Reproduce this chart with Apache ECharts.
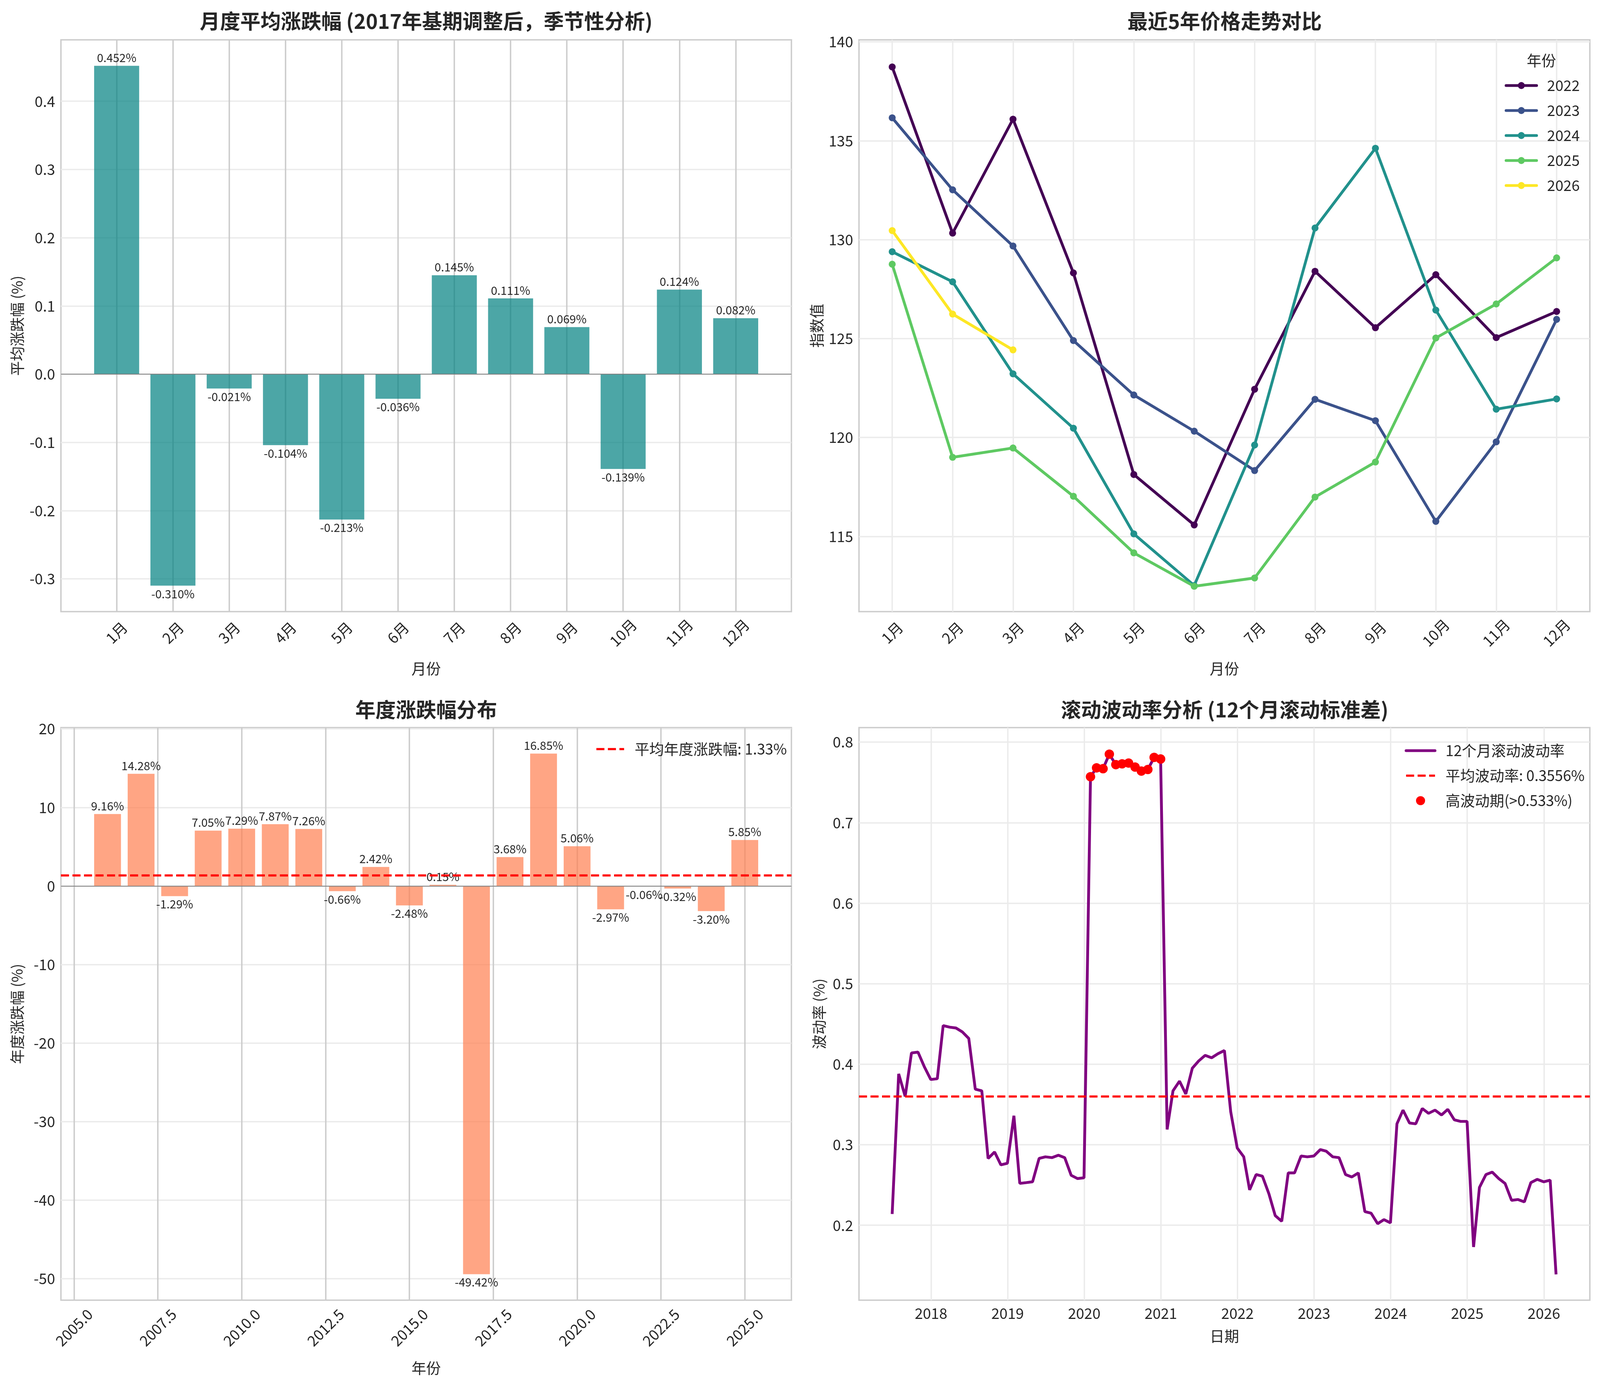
<!DOCTYPE html>
<html>
<head>
<meta charset="utf-8">
<title>价格分析</title>
<script src="https://cdn.jsdelivr.net/npm/echarts@6/dist/echarts.min.js"></script>
<style>
    html, body { margin: 0; padding: 0; background: #fff; overflow: hidden; }
    #chart { width: 100vw; height: 100vh; }
</style>
</head>
<body>
<div id="chart"></div>
<script>
var months = ['1月', '2月', '3月', '4月', '5月', '6月', '7月', '8月', '9月', '10月', '11月', '12月'];
var monthAvg = [0.452, -0.310, -0.021, -0.104, -0.213, -0.036, 0.145, 0.111, 0.069, -0.139, 0.124, 0.082];

var trendYears = ['2022', '2023', '2024', '2025', '2026'];
var trend2022 = [138.73, 130.33, 136.09, 128.32, 118.13, 115.58, 122.44, 128.40, 125.55, 128.23, 125.05, 126.37];
var trend2023 = [136.16, 132.52, 129.68, 124.90, 122.15, 120.32, 118.33, 121.93, 120.85, 115.76, 119.78, 125.97];
var trend2024 = [129.39, 127.87, 123.22, 120.47, 115.13, 112.52, 119.62, 130.59, 134.62, 126.44, 121.43, 121.95];
var trend2025 = [128.76, 119.00, 119.47, 117.03, 114.17, 112.48, 112.90, 116.99, 118.76, 125.03, 126.75, 129.08];
var trend2026 = [130.46, 126.24, 124.43];
var trendColors = ['#440154', '#3b528b', '#21918c', '#5ec962', '#fde725'];

var annualYears = [2006, 2007, 2008, 2009, 2010, 2011, 2012, 2013, 2014, 2015, 2016, 2017, 2018, 2019, 2020, 2021, 2022, 2023, 2024, 2025];
var annualChange = [9.16, 14.28, -1.29, 7.05, 7.29, 7.87, 7.26, -0.66, 2.42, -2.48, 0.15, -49.42, 3.68, 16.85, 5.06, -2.97, -0.06, -0.32, -3.20, 5.85];
var annualMean = 1.33;

// 月末数据，从 2017年6月 开始
var volStart = [2017, 6];
var volValues = [
    0.214, 0.388, 0.360, 0.414, 0.415, 0.397, 0.381,
    0.382, 0.448, 0.446, 0.445, 0.440, 0.432, 0.369, 0.367, 0.283, 0.291, 0.275, 0.277,
    0.336, 0.252, 0.253, 0.254, 0.283, 0.285, 0.284, 0.287, 0.284, 0.262, 0.258, 0.259,
    0.757, 0.768, 0.767, 0.785, 0.772, 0.773, 0.774, 0.769, 0.764, 0.766, 0.781, 0.779,
    0.319, 0.367, 0.379, 0.363, 0.395, 0.404, 0.411, 0.408, 0.413, 0.417, 0.341, 0.296,
    0.285, 0.244, 0.263, 0.261, 0.239, 0.212, 0.205, 0.265, 0.265, 0.286, 0.285, 0.286,
    0.294, 0.292, 0.285, 0.284, 0.263, 0.260, 0.265, 0.217, 0.215, 0.202, 0.207, 0.203,
    0.326, 0.343, 0.327, 0.326, 0.345, 0.339, 0.343, 0.337, 0.344, 0.331, 0.329, 0.329,
    0.173, 0.247, 0.263, 0.266, 0.258, 0.252, 0.231, 0.232, 0.229, 0.253, 0.257, 0.254,
    0.256, 0.139
];
var volMean = 0.3556;
var volYearTicks = [2018, 2019, 2020, 2021, 2022, 2023, 2024, 2025, 2026];

var FONT = 'Noto Sans CJK SC';
var TXT = '#262626';

// layout is measured on a 4764x3559 page, mapped onto whatever the viewport is
var dom = document.getElementById('chart');
var W = dom.clientWidth || window.innerWidth, H = dom.clientHeight || window.innerHeight;
var sx = W / 4764, sy = H / 3559;
var fs = Math.min(sx, sy) * 1.04;
function X(v) { return Math.round(v * sx); }
function Y(v) { return Math.round(v * sy); }
function F(v) { return Math.round(v * fs * 10) / 10; }

function monthEndYear(y, m) {
    var t = Date.UTC(y, m, 0);
    var s = Date.UTC(y, 0, 1), e = Date.UTC(y + 1, 0, 1);
    return y + (t - s) / (e - s);
}

function range(a, b, step) {
    var out = [];
    for (var v = a; v <= b + 1e-9; v += step) out.push(Math.round(v * 1000) / 1000);
    return out;
}

var volPoints = [], highPoints = [];
var highLimit = volMean * 1.5;
for (var i = 0; i < volValues.length; i++) {
    var mm = volStart[1] + i;
    var yy = volStart[0] + Math.floor((mm - 1) / 12);
    var x = monthEndYear(yy, ((mm - 1) % 12) + 1);
    volPoints.push([x, volValues[i]]);
    if (volValues[i] > highLimit) highPoints.push([x, volValues[i]]);
}

function axisX(gi, min, max, ticks, fmt, name, nameGap, labelOpt, vGrid) {
    return {
        type: 'value', gridIndex: gi, min: min, max: max,
        axisLine: { show: false },
        axisTick: { show: false, customValues: ticks },
        axisLabel: Object.assign({
            customValues: ticks, formatter: fmt,
            fontFamily: FONT, fontSize: F(42), color: TXT
        }, labelOpt),
        splitLine: { show: true, lineStyle: { color: vGrid, width: F(4) } },
        name: name, nameLocation: 'middle', nameGap: nameGap,
        nameTextStyle: { fontFamily: FONT, fontSize: F(42), color: TXT }
    };
}

function axisY(gi, min, max, ticks, fmt, name, nameGap) {
    return {
        type: 'value', gridIndex: gi, min: min, max: max,
        axisLine: { show: false },
        axisTick: { show: false, customValues: ticks },
        axisLabel: {
            customValues: ticks, formatter: fmt, margin: X(18),
            fontFamily: FONT, fontSize: F(42), color: TXT
        },
        splitLine: { show: true, lineStyle: { color: '#ebebeb', width: F(4) } },
        name: name, nameLocation: 'middle', nameGap: nameGap,
        nameTextStyle: { fontFamily: FONT, fontSize: F(42), color: TXT }
    };
}

function gridBox(left, top, width, height) {
    return {
        left: X(left), top: Y(top), width: X(width), height: Y(height),
        show: true, borderColor: '#cccccc', borderWidth: F(4), backgroundColor: 'transparent'
    };
}

function titleAt(text, x, top) {
    return {
        text: text, left: X(x), top: Y(top), textAlign: 'center', padding: 0,
        textStyle: { fontFamily: FONT, fontSize: F(58), fontWeight: 'bold', color: TXT }
    };
}

function zeroLine() {
    return {
        silent: true, symbol: 'none', label: { show: false },
        lineStyle: { color: '#808080', width: F(2.5), type: 'solid' },
        data: [{ yAxis: 0 }]
    };
}

function barData(values, xs) {
    return values.map(function (v, k) {
        return {
            value: [xs[k], v],
            label: { position: v >= 0 ? 'top' : 'bottom' }
        };
    });
}

function dashed() {
    return [F(23), F(10)];
}

var monthIdx = months.map(function (m, k) { return k; });
var trendData = [trend2022, trend2023, trend2024, trend2025, trend2026];

var series = [];
series.push({
    type: 'bar', name: '月度平均', xAxisIndex: 0, yAxisIndex: 0,
    data: barData(monthAvg, monthIdx),
    barWidth: '80%',
    itemStyle: { color: 'rgba(0,128,128,0.7)' },
    label: {
        show: true, distance: Y(6), fontFamily: FONT, fontSize: F(33), color: TXT,
        formatter: function (p) { return p.value[1].toFixed(3) + '%'; }
    },
    markLine: zeroLine()
});

trendYears.forEach(function (yr, k) {
    series.push({
        type: 'line', name: yr, xAxisIndex: 1, yAxisIndex: 1,
        data: trendData[k].map(function (v, j) { return [j, v]; }),
        symbol: 'circle', symbolSize: F(20),
        lineStyle: { width: F(8), color: trendColors[k] },
        itemStyle: { color: trendColors[k] },
        z: 3 + k
    });
});

var meanName = '平均年度涨跌幅: ' + annualMean.toFixed(2) + '%';
series.push({
    type: 'bar', name: '年度涨跌幅', xAxisIndex: 2, yAxisIndex: 2,
    data: barData(annualChange, annualYears),
    barWidth: '80%',
    itemStyle: { color: 'rgba(255,127,80,0.7)' },
    label: {
        show: true, distance: Y(6), fontFamily: FONT, fontSize: F(33), color: TXT,
        formatter: function (p) { return p.value[1].toFixed(2) + '%'; }
    },
    markLine: zeroLine()
});
series.push({
    type: 'line', name: meanName, xAxisIndex: 2, yAxisIndex: 2,
    data: [], symbol: 'none',
    lineStyle: { color: '#ff0000', width: F(6), type: dashed() },
    itemStyle: { color: '#ff0000' },
    markLine: {
        silent: true, symbol: 'none', label: { show: false },
        lineStyle: { color: '#ff0000', width: F(6), type: dashed() },
        data: [{ yAxis: annualMean }]
    },
    z: 5
});

var volName = '12个月滚动波动率';
var volMeanName = '平均波动率: ' + volMean.toFixed(4) + '%';
var highName = '高波动期(>' + highLimit.toFixed(3) + '%)';
series.push({
    type: 'line', name: volName, xAxisIndex: 3, yAxisIndex: 3,
    data: volPoints, symbol: 'none',
    lineStyle: { color: '#800080', width: F(8) },
    itemStyle: { color: '#800080' },
    z: 3
});
series.push({
    type: 'line', name: volMeanName, xAxisIndex: 3, yAxisIndex: 3,
    data: [], symbol: 'none',
    lineStyle: { color: '#ff0000', width: F(6), type: dashed() },
    itemStyle: { color: '#ff0000' },
    markLine: {
        silent: true, symbol: 'none', label: { show: false },
        lineStyle: { color: '#ff0000', width: F(6), type: dashed() },
        data: [{ yAxis: volMean }]
    },
    z: 4
});
series.push({
    type: 'scatter', name: highName, xAxisIndex: 3, yAxisIndex: 3,
    data: highPoints, symbol: 'circle', symbolSize: F(27),
    itemStyle: { color: '#ff0000', opacity: 1 },
    z: 6
});

var hideDot = { color: 'rgba(0,0,0,0)', borderColor: 'rgba(0,0,0,0)', borderWidth: 0 };
var solidIcon = { width: F(8), type: 'solid', cap: 'round' };
var dashIcon = { width: F(6), type: dashed() };
var legendLine = Math.round(F(44));
var legendText = { fontFamily: FONT, fontSize: F(42), lineHeight: legendLine, color: TXT, padding: [0, 0, 0, X(26)] };
var legendGap = Math.max(0, Y(64) - legendLine);

var option = {
    backgroundColor: '#ffffff',
    animation: false,
    textStyle: { fontFamily: FONT },
    title: [
        titleAt('月度平均涨跌幅 (2017年基期调整后，季节性分析)', 1269, 28),
        titleAt('最近5年价格走势对比', 3646, 28),
        titleAt('年度涨跌幅分布', 1269, 1791),
        titleAt('滚动波动率分析 (12个月滚动标准差)', 3646, 1791),
        {
            text: '年份', left: X(4590), top: Y(136), textAlign: 'center', padding: 0,
            textStyle: { fontFamily: FONT, fontSize: F(42), fontWeight: 'normal', color: TXT }
        }
    ],
    grid: [
        gridBox(182, 102, 2175, 1464),
        gridBox(2558, 102, 2176, 1464),
        gridBox(182, 1863, 2175, 1466),
        gridBox(2558, 1863, 2176, 1466)
    ],
    xAxis: [
        axisX(0, -0.99, 11.99, monthIdx, function (v) { return months[Math.round(v)]; }, '月份', Y(127),
            { rotate: 45, align: 'center', verticalAlign: 'middle', margin: Y(54) }, '#cccccc'),
        axisX(1, -0.55, 11.55, monthIdx, function (v) { return months[Math.round(v)]; }, '月份', Y(127),
            { rotate: 45, align: 'center', verticalAlign: 'middle', margin: Y(54) }, '#ebebeb'),
        axisX(2, 2004.61, 2026.39, range(2005, 2025, 2.5), function (v) { return v.toFixed(1); }, '年份', Y(155),
            { rotate: 45, align: 'center', verticalAlign: 'middle', margin: Y(70) }, '#cccccc'),
        axisX(3, 2017.06, 2026.6, volYearTicks, function (v) { return String(Math.round(v)); }, '日期', Y(73),
            { margin: Y(15) }, '#ebebeb')
    ],
    yAxis: [
        axisY(0, -0.348, 0.490, range(-0.3, 0.4, 0.1), function (v) { return v.toFixed(1); }, '平均涨跌幅 (%)', X(108)),
        axisY(1, 111.2, 140.1, range(115, 140, 5), function (v) { return String(v); }, '指数值', X(104)),
        axisY(2, -52.73, 20.16, range(-50, 20, 10), function (v) { return String(v); }, '年度涨跌幅 (%)', X(108)),
        axisY(3, 0.107, 0.818, range(0.2, 0.8, 0.1), function (v) { return v.toFixed(1); }, '波动率 (%)', X(96))
    ],
    legend: [
        {
            data: trendYears, orient: 'vertical', left: X(4480), top: Y(219) - legendLine / 2, padding: 0,
            itemWidth: X(91), itemHeight: F(25), itemGap: legendGap, textStyle: legendText,
            lineStyle: solidIcon
        },
        {
            data: [{ name: meanName, itemStyle: hideDot, lineStyle: dashIcon }], orient: 'vertical',
            left: X(1773), top: Y(1918) - legendLine / 2, padding: 0,
            itemWidth: X(82), itemHeight: F(26), itemGap: legendGap, textStyle: legendText
        },
        {
            data: [
                { name: volName, itemStyle: hideDot, lineStyle: solidIcon },
                { name: volMeanName, itemStyle: hideDot, lineStyle: dashIcon },
                { name: highName }
            ],
            orient: 'vertical', left: X(4182), top: Y(1922) - legendLine / 2, padding: 0,
            itemWidth: X(86), itemHeight: F(26), itemGap: legendGap, textStyle: legendText
        }
    ],
    series: series
};

var chart = echarts.init(dom, null, { renderer: 'canvas' });
chart.setOption(option);
window.addEventListener('resize', function () {
    chart.resize();
}, true);
</script>
</body>
</html>
